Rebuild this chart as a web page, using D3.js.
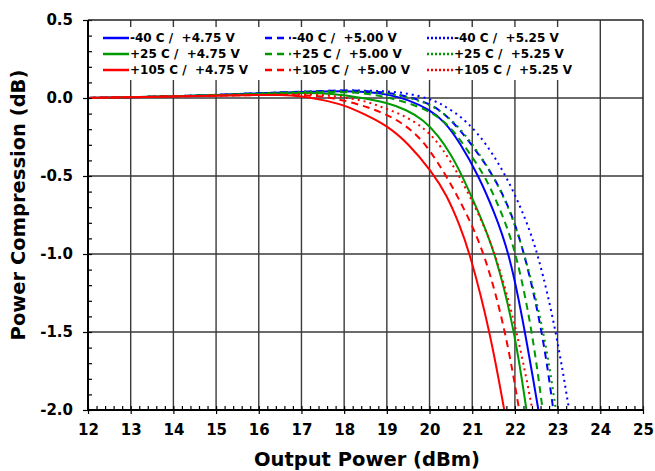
<!DOCTYPE html>
<html>
<head>
<meta charset="utf-8">
<script src="https://cdn.jsdelivr.net/npm/d3@7"></script>
<style>
  body { margin: 0; background: #fff; }
  svg { display: block; }
  text { font-family: "DejaVu Sans", Verdana, sans-serif; font-weight: bold; fill: #000; }
</style>
</head>
<body>
<svg id="chart" width="655" height="471"></svg>
<script>
// legend categories
var temps = ["-40 C", "+25 C", "+105 C"];
var volts = ["+4.75 V", "+5.00 V", "+5.25 V"];
var xTicks = d3.range(12, 26);
var yTicks = [0.5, 0.0, -0.5, -1.0, -1.5, -2.0];

// [output power (dBm), compression (dB)]
var m40_475 = [[12,0],[13,0.005],[14,0.01],[15,0.02],[16,0.03],[17,0.04],[18,0.045],[18.5,0.04],[19,0.025],[19.5,-0.01],[20,-0.075],[20.35,-0.15],[20.7,-0.28],[21.15,-0.5],[21.5,-0.72],[21.88,-1.0],[22.24,-1.5],[22.55,-2.0]];
var m40_500 = [[12,0],[14,0.01],[16,0.03],[17,0.04],[18,0.05],[18.5,0.045],[19,0.035],[19.5,0.01],[20,-0.035],[20.35,-0.1],[20.7,-0.2],[21.1,-0.34],[21.5,-0.5],[21.9,-0.72],[22.23,-1.0],[22.65,-1.5],[22.9,-2.0]];
var m40_525 = [[12,0],[14,0.01],[16,0.03],[17,0.04],[18,0.05],[19,0.045],[19.5,0.03],[20,-0.005],[20.25,-0.035],[20.55,-0.085],[20.87,-0.15],[21.3,-0.28],[21.8,-0.5],[22.2,-0.74],[22.55,-1.0],[22.97,-1.5],[23.27,-2.0]];

var p25_475 = [[12,0],[14,0.01],[16,0.025],[17,0.035],[17.7,0.03],[18.45,0.0],[19,-0.03],[19.46,-0.075],[19.86,-0.14],[20.2,-0.24],[20.5,-0.36],[20.77,-0.5],[21.16,-0.74],[21.55,-1.0],[22.0,-1.5],[22.27,-2.0]];
var p25_500 = [[12,0],[14,0.01],[16,0.025],[17,0.035],[18,0.04],[18.5,0.03],[19,0.005],[19.5,-0.03],[20,-0.085],[20.35,-0.15],[20.65,-0.24],[20.95,-0.36],[21.3,-0.5],[21.7,-0.74],[22.04,-1.0],[22.41,-1.5],[22.65,-2.0]];
var p25_525 = [[12,0],[14,0.01],[16,0.03],[17,0.04],[18,0.045],[18.5,0.04],[19,0.03],[19.5,0.005],[20,-0.04],[20.35,-0.1],[20.7,-0.19],[21.1,-0.33],[21.5,-0.5],[21.9,-0.73],[22.23,-1.0],[22.69,-1.5],[22.96,-2.0]];

var p105_475 = [[12,0],[13,0.005],[14,0.01],[15,0.015],[16,0.02],[16.5,0.02],[17,0.012],[17.5,-0.012],[18,-0.045],[18.45,-0.1],[19,-0.175],[19.5,-0.29],[20.05,-0.47],[20.4,-0.62],[20.7,-0.81],[20.95,-1.0],[21.42,-1.5],[21.75,-2.0]];
var p105_500 = [[12,0],[14,0.01],[16,0.02],[17,0.02],[17.5,0.01],[17.8,-0.005],[18.2,-0.03],[18.56,-0.06],[18.9,-0.095],[19.23,-0.14],[19.55,-0.2],[19.9,-0.29],[20.4,-0.5],[20.85,-0.73],[21.3,-1.0],[21.79,-1.5],[22.1,-2.0]];
var p105_525 = [[12,0],[14,0.01],[16,0.02],[17,0.025],[17.5,0.02],[18,0.005],[18.5,-0.02],[18.85,-0.055],[19.2,-0.09],[19.55,-0.135],[19.95,-0.21],[20.3,-0.32],[20.7,-0.5],[21.15,-0.74],[21.55,-1.0],[22.06,-1.5],[22.41,-2.0]];

var colors = ["#0000ff", "#009a00", "#ff0000"];
var dashes = [null, "7,5", "2,4"];
var legendDashes = [null, "7,5", "2,2"];

var series = [
    {t: 0, v: 0, data: m40_475}, {t: 0, v: 1, data: m40_500}, {t: 0, v: 2, data: m40_525},
    {t: 1, v: 0, data: p25_475}, {t: 1, v: 1, data: p25_500}, {t: 1, v: 2, data: p25_525},
    {t: 2, v: 0, data: p105_475}, {t: 2, v: 1, data: p105_500}, {t: 2, v: 2, data: p105_525}
];

function drawChart() {
    var svg = d3.select("#chart");
    var pl = 88, pr = 643, pt = 20, pb = 410;

    var x = d3.scaleLinear().domain([12, 25]).range([pl, pr]);
    var y = d3.scaleLinear().domain([-2, 0.5]).range([pb, pt]);

    svg.append("defs").append("clipPath").attr("id", "plotclip")
        .append("rect")
        .attr("x", pl).attr("y", pt)
        .attr("width", pr - pl).attr("height", pb - pt);

    // grid
    var grid = svg.append("g");
    grid.selectAll("line.v")
        .data(xTicks.filter(function(d) { return d > 12 && d < 25; }))
        .enter().append("line")
        .attr("x1", function(d) { return x(d); }).attr("x2", function(d) { return x(d); })
        .attr("y1", pt).attr("y2", pb)
        .attr("stroke", "#3a3a3a").attr("stroke-width", 1.4);
    grid.selectAll("line.h")
        .data(yTicks.filter(function(d) { return d > -2 && d < 0.5; }))
        .enter().append("line")
        .attr("x1", pl).attr("x2", pr)
        .attr("y1", function(d) { return y(d); }).attr("y2", function(d) { return y(d); })
        .attr("stroke", "#3a3a3a").attr("stroke-width", 1.4);

    // curves
    var line = d3.line()
        .x(function(d) { return x(d[0]); })
        .y(function(d) { return y(d[1]); })
        .curve(d3.curveBasis);

    svg.append("g").attr("clip-path", "url(#plotclip)")
        .selectAll("path")
        .data(series)
        .enter().append("path")
        .attr("d", function(d) { return line(d.data); })
        .attr("fill", "none")
        .attr("stroke", function(d) { return colors[d.t]; })
        .attr("stroke-width", 2)
        .attr("stroke-dasharray", function(d) { return dashes[d.v]; });

    // legend
    var legend = svg.append("g");
    legend.append("rect")
        .attr("x", 93).attr("y", 27)
        .attr("width", 490).attr("height", 53)
        .attr("fill", "#fff");

    var colX = [103, 265, 427];
    var rowY = [38, 54, 70];

    var items = legend.selectAll("g.item")
        .data(series)
        .enter().append("g")
        .attr("transform", function(d) { return "translate(" + colX[d.v] + "," + rowY[d.t] + ")"; });

    items.append("line")
        .attr("x1", 0).attr("x2", 26)
        .attr("stroke", function(d) { return colors[d.t]; })
        .attr("stroke-width", 2.5)
        .attr("stroke-dasharray", function(d) { return legendDashes[d.v]; });

    items.append("text")
        .attr("x", 27)
        .attr("dy", "0.36em")
        .attr("font-size", 12)
        .style("white-space", "pre")
        .text(function(d) { return temps[d.t] + " /  " + volts[d.v]; });

    // axes
    var xAxis = svg.append("g").attr("transform", "translate(0," + pb + ")");
    xAxis.call(d3.axisBottom(x).tickValues(d3.range(12, 25.001, 0.2)).tickSize(-4).tickFormat(""));
    xAxis.append("g").call(d3.axisBottom(x).tickValues(xTicks).tickSize(4).tickPadding(10)
        .tickFormat(function(d) { return d; }));
    xAxis.selectAll("path.domain").remove();
    xAxis.selectAll("line").attr("stroke", "#000").attr("stroke-width", 1.2);
    xAxis.selectAll("text").attr("font-size", 15).attr("font-family", null);

    var yAxis = svg.append("g").attr("transform", "translate(" + pl + ",0)");
    yAxis.call(d3.axisLeft(y).tickValues(d3.range(-2, 0.5001, 0.1)).tickSize(-4).tickFormat(""));
    yAxis.append("g").call(d3.axisLeft(y).tickValues(yTicks).tickSize(5).tickPadding(10)
        .tickFormat(function(d) { return d.toFixed(1); }));
    yAxis.selectAll("path.domain").remove();
    yAxis.selectAll("line").attr("stroke", "#000").attr("stroke-width", 1.2);
    yAxis.selectAll("text").attr("font-size", 15).attr("font-family", null);

    // frame
    svg.append("line").attr("x1", pl).attr("x2", pr).attr("y1", pt).attr("y2", pt)
        .attr("stroke", "#222").attr("stroke-width", 1.5);
    svg.append("line").attr("x1", pr).attr("x2", pr).attr("y1", pt).attr("y2", pb)
        .attr("stroke", "#222").attr("stroke-width", 1.5);
    svg.append("line").attr("x1", pl).attr("x2", pl).attr("y1", pt).attr("y2", pb)
        .attr("stroke", "#000").attr("stroke-width", 2);
    svg.append("line").attr("x1", pl).attr("x2", pr).attr("y1", pb).attr("y2", pb)
        .attr("stroke", "#000").attr("stroke-width", 2);

    // titles
    svg.append("text")
        .attr("x", 367).attr("y", 466)
        .attr("text-anchor", "middle")
        .attr("font-size", 19.5)
        .text("Output Power (dBm)");

    svg.append("text")
        .attr("transform", "translate(25,205) rotate(-90)")
        .attr("text-anchor", "middle")
        .attr("font-size", 19.5)
        .text("Power Compression (dB)");
}

drawChart();
</script>
</body>
</html>
